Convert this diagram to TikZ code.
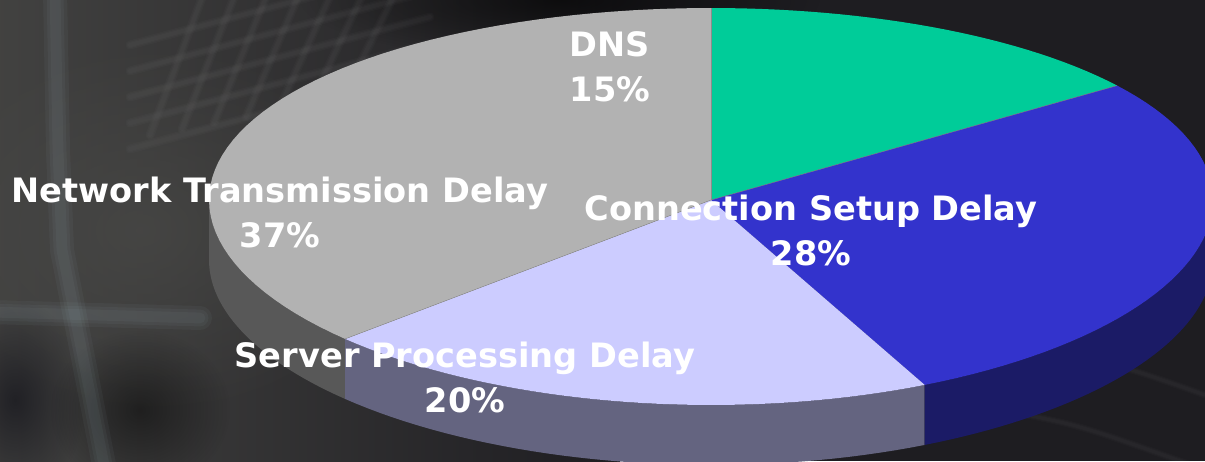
\documentclass[tikz,border=0pt]{standalone}
\usepackage{fontspec}
\setmainfont{DejaVu Sans}
\usetikzlibrary{shadings,fadings}
\definecolor{bgbase}{RGB}{30,29,33}
\definecolor{bglight}{RGB}{72,72,70}
\definecolor{bgdeep}{RGB}{12,12,20}
\definecolor{dnstop}{RGB}{0,204,153}
\definecolor{connTop}{RGB}{51,51,204}
\definecolor{connSide}{RGB}{27,27,102}
\definecolor{servTop}{RGB}{204,204,255}
\definecolor{servSide}{RGB}{100,100,128}
\definecolor{netTop}{RGB}{178,178,178}
\definecolor{netSide}{RGB}{88,88,88}
\tikzfading[name=glow, inner color=transparent!0, outer color=transparent!100]
\tikzset{
  edgeline/.style={draw=black!45, line width=0.4pt},
  piece label/.style={text=white, align=center, inner sep=0pt,
    font=\bfseries\fontsize{33.6}{45}\selectfont},
  softline/.style={draw=white, opacity=0.016, line width=#1, line cap=round},
  softbar/.style={draw=white!80!cyan, opacity=0.04, line width=#1, line cap=round},
}
% soft, slightly blurred light strokes
\newcommand\softstroke[2]{%
  \foreach \w in {#1, 0.7*#1, 0.45*#1} { \draw[softline=\w pt] #2; }%
}
\newcommand\softbarstroke[2]{%
  \foreach \w in {#1, 0.7*#1, 0.45*#1} { \draw[softbar=\w pt] #2; }%
}
\begin{document}
\begin{tikzpicture}[x=1pt, y=-1pt,
  declare function={ex(\t)=711+502*cos(\t); ey(\t)=200-(198.5-6.5*sin(\t))*sin(\t);}]
  \useasboundingbox (0,0) rectangle (1205,461);
  \clip (0,0) rectangle (1205,461);

  % backdrop: dark photo-like background
  \fill[bgbase] (0,0) rectangle (1205,461);
  \fill[left color=bglight!85!bgbase, right color=bgbase] (0,0) rectangle (620,461);
  \fill[bglight, opacity=0.8, path fading=glow] (140,230) ellipse[x radius=260, y radius=190];
  \fill[black, opacity=0.6, path fading=glow] (560,0) ellipse[x radius=260, y radius=60];
  \fill[bgdeep, opacity=0.6, path fading=glow] (15,400) ellipse[x radius=70, y radius=100];
  \fill[black, opacity=0.45, path fading=glow] (140,410) ellipse[x radius=90, y radius=80];
  \softbarstroke{24}{(55,-10) -- (58,150) -- (62,250) -- (105,470)}
  \softbarstroke{24}{(-10,312) -- (200,318)}
  \foreach \i in {0,...,6} {
    \softstroke{9}{(150+\i*32,135-\i*6) -- (205+\i*32,-10)}
  }
  \foreach \j in {0,...,4} {
    \softstroke{9}{(130,45+\j*26) -- (430,-35+\j*26)}
  }
  \softstroke{8}{(390,345) -- (560,300)}
  \softstroke{8}{(390,375) -- (560,330)}
  \softstroke{8}{(410,405) -- (560,362)}
  \softstroke{7}{(1000,410) .. controls (1080,425) .. (1205,470)}
  \softstroke{7}{(1040,350) .. controls (1120,365) .. (1205,395)}

  % side walls of the visible front half
  \fill[netSide] plot[domain=180:223.2, samples=30, variable=\t] ({ex(\t)},{ey(\t)})
     -- plot[domain=223.2:180, samples=30, variable=\t] ({ex(\t)},{ey(\t)+60}) -- cycle;
  \fill[servSide] plot[domain=223.2:295.2, samples=40, variable=\t] ({ex(\t)},{ey(\t)})
     -- plot[domain=295.2:223.2, samples=40, variable=\t] ({ex(\t)},{ey(\t)+60}) -- cycle;
  \fill[connSide] plot[domain=295.2:360, samples=40, variable=\t] ({ex(\t)},{ey(\t)})
     -- plot[domain=360:295.2, samples=40, variable=\t] ({ex(\t)},{ey(\t)+60}) -- cycle;

  % top faces of the four slices
  \coordinate (c) at (711,200);
  \fill[dnstop] (c) -- plot[domain=90:36, samples=30, variable=\t] ({ex(\t)},{ey(\t)}) -- cycle;
  \fill[connTop] (c) -- plot[domain=36:-64.8, samples=50, variable=\t] ({ex(\t)},{ey(\t)}) -- cycle;
  \fill[servTop] (c) -- plot[domain=-64.8:-136.8, samples=40, variable=\t] ({ex(\t)},{ey(\t)}) -- cycle;
  \fill[netTop] (c) -- plot[domain=-136.8:-270, samples=60, variable=\t] ({ex(\t)},{ey(\t)}) -- cycle;

  % slice boundaries
  \coordinate (b1) at ({ex(90)},{ey(90)});
  \coordinate (b2) at ({ex(36)},{ey(36)});
  \coordinate (b4) at ({ex(-136.8)},{ey(-136.8)});
  \draw[edgeline] (c) -- (b1);
  \draw[edgeline] (c) -- (b2);
  \draw[edgeline] (c) -- (b4);

  % labels (anchored at the baseline of the percentage line)
  \node[piece label, anchor=base] (dns) at (610,101) {DNS\\15\%};
  \node[piece label, anchor=base] (net) at (280,247) {Network Transmission Delay\\37\%};
  \node[piece label, anchor=base] (conn) at (811,265) {Connection Setup Delay\\28\%};
  \node[piece label, anchor=base] (serv) at (465,412) {Server Processing Delay\\20\%};
\end{tikzpicture}
\end{document}
